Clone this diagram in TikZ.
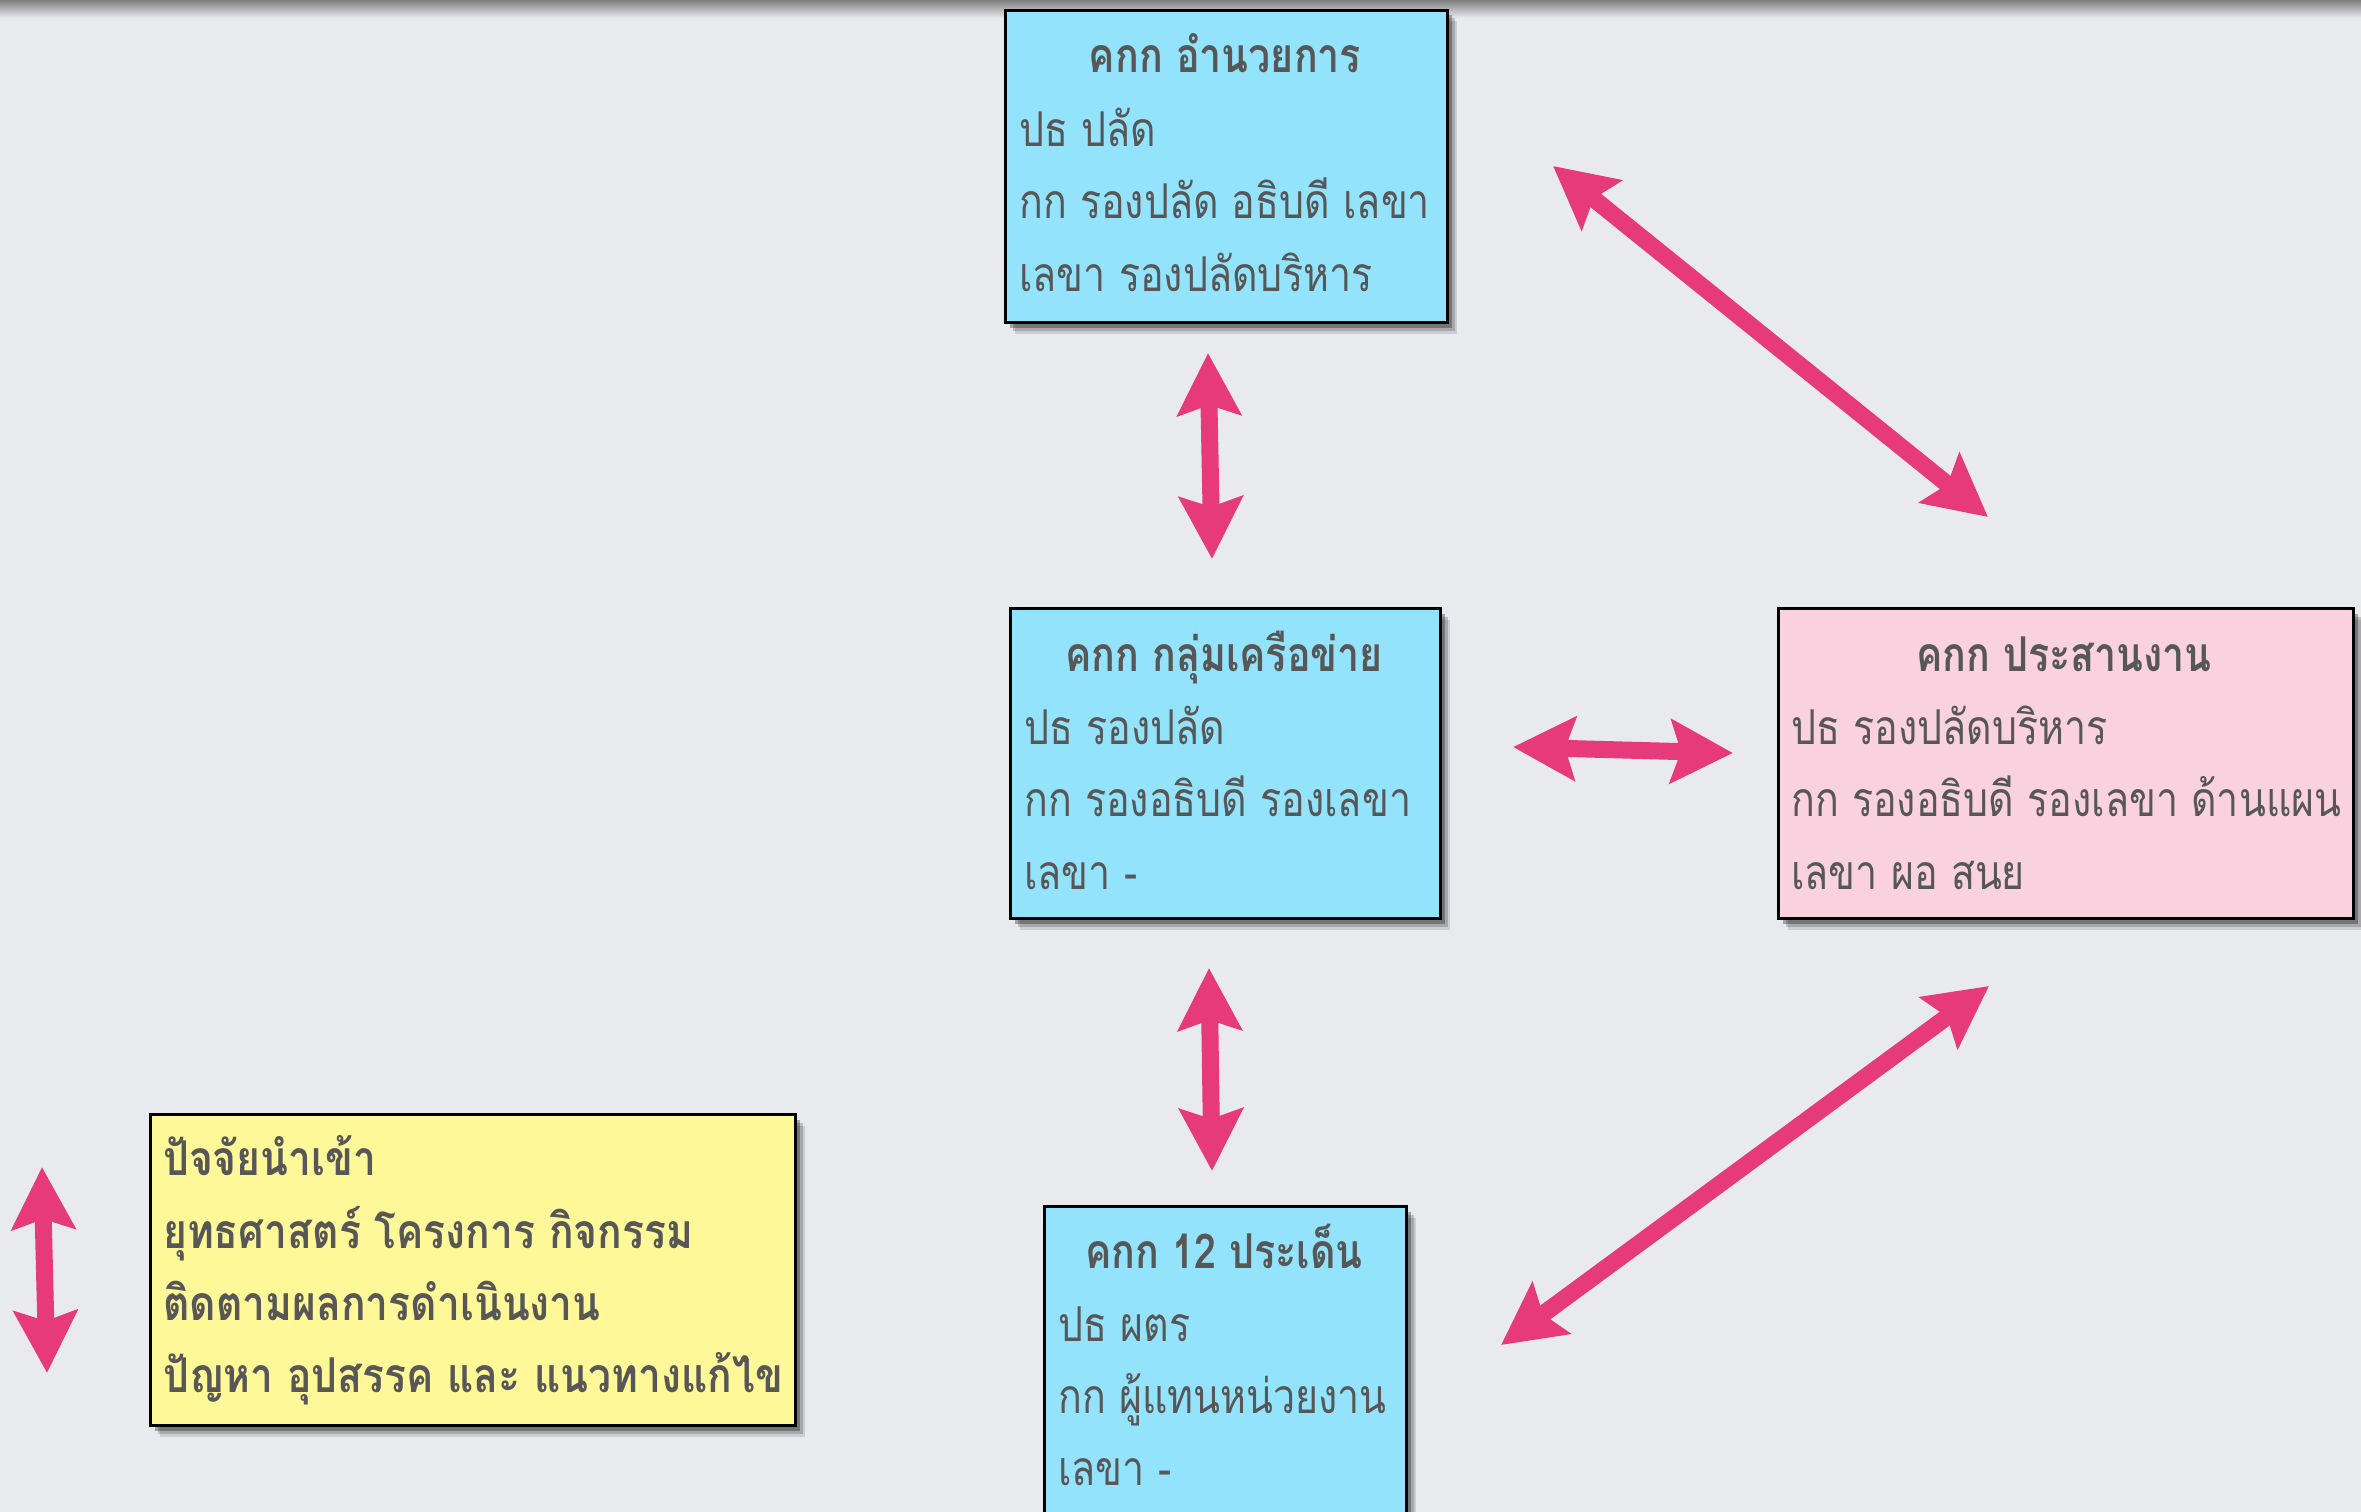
\documentclass[tikz,border=0pt]{standalone}
\usepackage{fontspec}
\newfontfamily\thai[Script=Thai, FakeStretch=0.82]{Loma}
\newfontfamily\thaileg[Script=Thai, FakeStretch=0.85]{Loma}
\usetikzlibrary{arrows.meta,shadows}
\definecolor{bgc}{HTML}{E9EAED}
\definecolor{boxblue}{HTML}{93E3FD}
\definecolor{boxpink}{HTML}{F9D1DF}
\definecolor{boxyellow}{HTML}{FFF899}
\definecolor{txt}{HTML}{575757}
\definecolor{arr}{HTML}{E63A7B}
\begin{document}
\begin{tikzpicture}[x=1pt,y=-1pt,
  box/.style={draw=black, line width=3pt, anchor=north west, inner sep=0pt,
    drop shadow={shadow xshift=9pt, shadow yshift=-11pt, opacity=0.12, fill=black},
    drop shadow={shadow xshift=7pt, shadow yshift=-8pt, opacity=0.18, fill=black},
    drop shadow={shadow xshift=4pt, shadow yshift=-5pt, opacity=0.3, fill=black}},
  bodyline/.style={anchor=base west, text=txt, inner sep=0pt,
    font=\thai\fontsize{48}{54}\selectfont},
  titleline/.style={anchor=base, text=txt, inner sep=0pt,
    font=\thai\bfseries\fontsize{48}{54}\selectfont},
  legline/.style={anchor=base west, text=txt, inner sep=0pt,
    font=\thaileg\bfseries\fontsize{48}{54}\selectfont},
  twoway/.style={draw=arr, line width=17pt,
    {Stealth[length=62pt,width=63pt,inset=10pt]}-{Stealth[length=62pt,width=63pt,inset=10pt]}}
]
\useasboundingbox (0,0) rectangle (2361,1512);
\clip (0,0) rectangle (2361,1512);
\fill[bgc] (0,0) rectangle (2361,1512);
\shade[top color=black!50, bottom color=bgc] (0,0) rectangle (2361,18);

% boxes
\node[box, fill=boxblue, minimum width=442pt, minimum height=312pt] (b1) at (1004,9) {};
\node[box, fill=boxblue, minimum width=430pt, minimum height=310pt] (b2) at (1009,607) {};
\node[box, fill=boxpink, minimum width=575pt, minimum height=310pt] (b3) at (1777,607) {};
\node[box, fill=boxblue, minimum width=362pt, minimum height=340pt] (b4) at (1043,1205) {};
\node[box, fill=boxyellow, minimum width=645pt, minimum height=311pt] (b5) at (149,1113) {};

% box 1 text
\node[titleline] (t1) at (1225,73) {คกก อำนวยการ};
\node[bodyline] (t1a) at (1019,146) {ปธ ปลัด};
\node[bodyline] (t1b) at (1019,218) {กก รองปลัด อธิบดี เลขา};
\node[bodyline] (t1c) at (1019,291) {เลขา รองปลัดบริหาร};

% box 2 text
\node[titleline] (t2) at (1224,671) {คกก กลุ่มเครือข่าย};
\node[bodyline] (t2a) at (1024,744) {ปธ รองปลัด};
\node[bodyline] (t2b) at (1024,816) {กก รองอธิบดี รองเลขา};
\node[bodyline] (t2c) at (1024,889) {เลขา -};

% box 3 text
\node[titleline] (t3) at (2064,671) {คกก ประสานงาน};
\node[bodyline] (t3a) at (1791,744) {ปธ รองปลัดบริหาร};
\node[bodyline] (t3b) at (1791,816) {กก รองอธิบดี รองเลขา ด้านแผน};
\node[bodyline] (t3c) at (1791,889) {เลขา ผอ สนย};

% box 4 text
\node[titleline] (t4) at (1224,1268) {คกก 12 ประเด็น};
\node[bodyline] (t4a) at (1058,1341) {ปธ ผตร};
\node[bodyline] (t4b) at (1058,1413) {กก ผู้แทนหน่วยงาน};
\node[bodyline] (t4c) at (1058,1485) {เลขา -};

% legend text
\node[legline] (t5a) at (163,1175) {ปัจจัยนำเข้า};
\node[legline] (t5b) at (163,1248) {ยุทธศาสตร์ โครงการ กิจกรรม};
\node[legline] (t5c) at (163,1320) {ติดตามผลการดำเนินงาน};
\node[legline] (t5d) at (163,1392) {ปัญหา อุปสรรค และ แนวทางแก้ไข};

% arrow end points
\coordinate (a1s) at (1208,353);
\coordinate (a1e) at (1212,559);
\coordinate (a2s) at (1553,166);
\coordinate (a2e) at (1988,517);
\coordinate (a3s) at (1513,747);
\coordinate (a3e) at (1733,753);
\coordinate (a4s) at (1209,968);
\coordinate (a4e) at (1212,1171);
\coordinate (a5s) at (1501,1345);
\coordinate (a5e) at (1989,986);
\coordinate (a6s) at (42,1167);
\coordinate (a6e) at (47,1373);

\draw[twoway] (a1s) -- (a1e);
\draw[twoway] (a2s) -- (a2e);
\draw[twoway] (a3s) -- (a3e);
\draw[twoway] (a4s) -- (a4e);
\draw[twoway] (a5s) -- (a5e);
\draw[twoway] (a6s) -- (a6e);
\end{tikzpicture}
\end{document}
